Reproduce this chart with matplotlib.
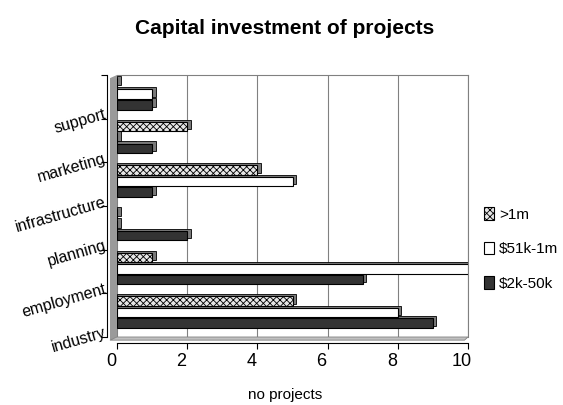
import numpy as np
import matplotlib
matplotlib.use('Agg')
import matplotlib.pyplot as plt
import matplotlib.transforms as mtransforms
from matplotlib.patches import Polygon

plt.rcParams['font.family'] = ['Liberation Sans Narrow', 'Liberation Sans', 'DejaVu Sans']
plt.rcParams['hatch.linewidth'] = 0.6

categories = ['industry', 'employment', 'planning', 'infrastructure', 'marketing', 'support']
series_names = ['>1m', '$51k-1m', '$2k-50k']
over_1m = [5, 1, 0, 4, 2, 0]
k51_1m = [8, 10, 0, 5, 0, 1]
k2_50k = [9, 7, 2, 1, 1, 1]
x_ticks = [0, 2, 4, 6, 8, 10]

fig = plt.figure(figsize=(5.63, 4.05), dpi=100)
ax = fig.add_axes([0.2078, 0.1679, 0.6235, 0.6469])

y = np.arange(len(categories))
h = 0.22
dx, dy = 0.1, 0.05   # depth of the 3d bars
styles = [
    (over_1m, 0.32, dict(facecolor='#e6e6e6', hatch='xxxxx')),
    (k51_1m, 0.06, dict(facecolor='white')),
    (k2_50k, -0.18, dict(facecolor='#333333')),
]
for vals, off, st in styles:
    vals = np.array(vals, dtype=float)
    # side/top face drawn behind the front face
    ax.barh(y + off + dy, vals + dx, height=h, left=0, color='#7a7a7a',
            edgecolor='black', linewidth=0.6, zorder=2)
    ax.barh(y + off, vals, height=h, edgecolor='black', linewidth=0.8,
            zorder=3, **st)

ax.set_xlim(0, 10)
ax.set_ylim(-0.5, 5.5)
ax.set_xticks(x_ticks)
ax.set_xticklabels([])
ax.tick_params(axis='x', length=4, direction='out')
ax.grid(axis='x', color='#808080', linewidth=0.8, zorder=0)

# x labels follow the front edge of the floor, a bit left of the wall
xtrans = mtransforms.blended_transform_factory(ax.transData, ax.transAxes)
shift = mtransforms.ScaledTranslation(-6 / 100, 0, fig.dpi_scale_trans)
for t in x_ticks:
    ax.text(t, -0.095, str(t), transform=xtrans + shift, fontsize=13,
            ha='center', va='center')

# category labels sit at the lower edge of each band, tilted
ax.set_yticks(np.arange(len(categories) + 1) - 0.5)
ax.set_yticklabels([])
ax.tick_params(axis='y', length=4)
trans = mtransforms.blended_transform_factory(ax.transAxes, ax.transData)
for yi, name in zip(y, categories):
    ax.text(-0.032, yi - 0.4, name, transform=trans, fontsize=11.5,
            rotation=16, ha='right', va='center', rotation_mode='anchor')

ax.spines['top'].set_color('#808080')
ax.spines['right'].set_color('#808080')
ax.spines['left'].set_position(('outward', 7))
ax.spines['bottom'].set_position(('outward', 4))

# gray side wall and floor
wall = Polygon([(-0.02, -0.012), (0, 0), (0, 1), (-0.02, 0.988)], closed=True,
               transform=ax.transAxes, facecolor='#9a9a9a', edgecolor='none',
               clip_on=False, zorder=1)
floor = Polygon([(-0.02, -0.012), (0.99, -0.012), (1, 0), (0, 0)], closed=True,
                transform=ax.transAxes, facecolor='#c0c0c0', edgecolor='#808080',
                linewidth=0.6, clip_on=False, zorder=1)
ax.add_patch(wall)
ax.add_patch(floor)

ax.set_xlabel('no projects', fontsize=11, va='center')
ax.xaxis.set_label_coords(0.48, -0.221)
fig.text(0.506, 0.93, 'Capital investment of projects', ha='center',
         va='center', fontsize=15, fontweight='bold')

ax.legend([ax.containers[1], ax.containers[3], ax.containers[5]], series_names,
          loc='center left', bbox_to_anchor=(1.005, 0.336), frameon=False,
          fontsize=11, handlelength=0.7, handleheight=0.9,
          handletextpad=0.3, labelspacing=1.3)

fig.savefig('out.png', dpi=100)
